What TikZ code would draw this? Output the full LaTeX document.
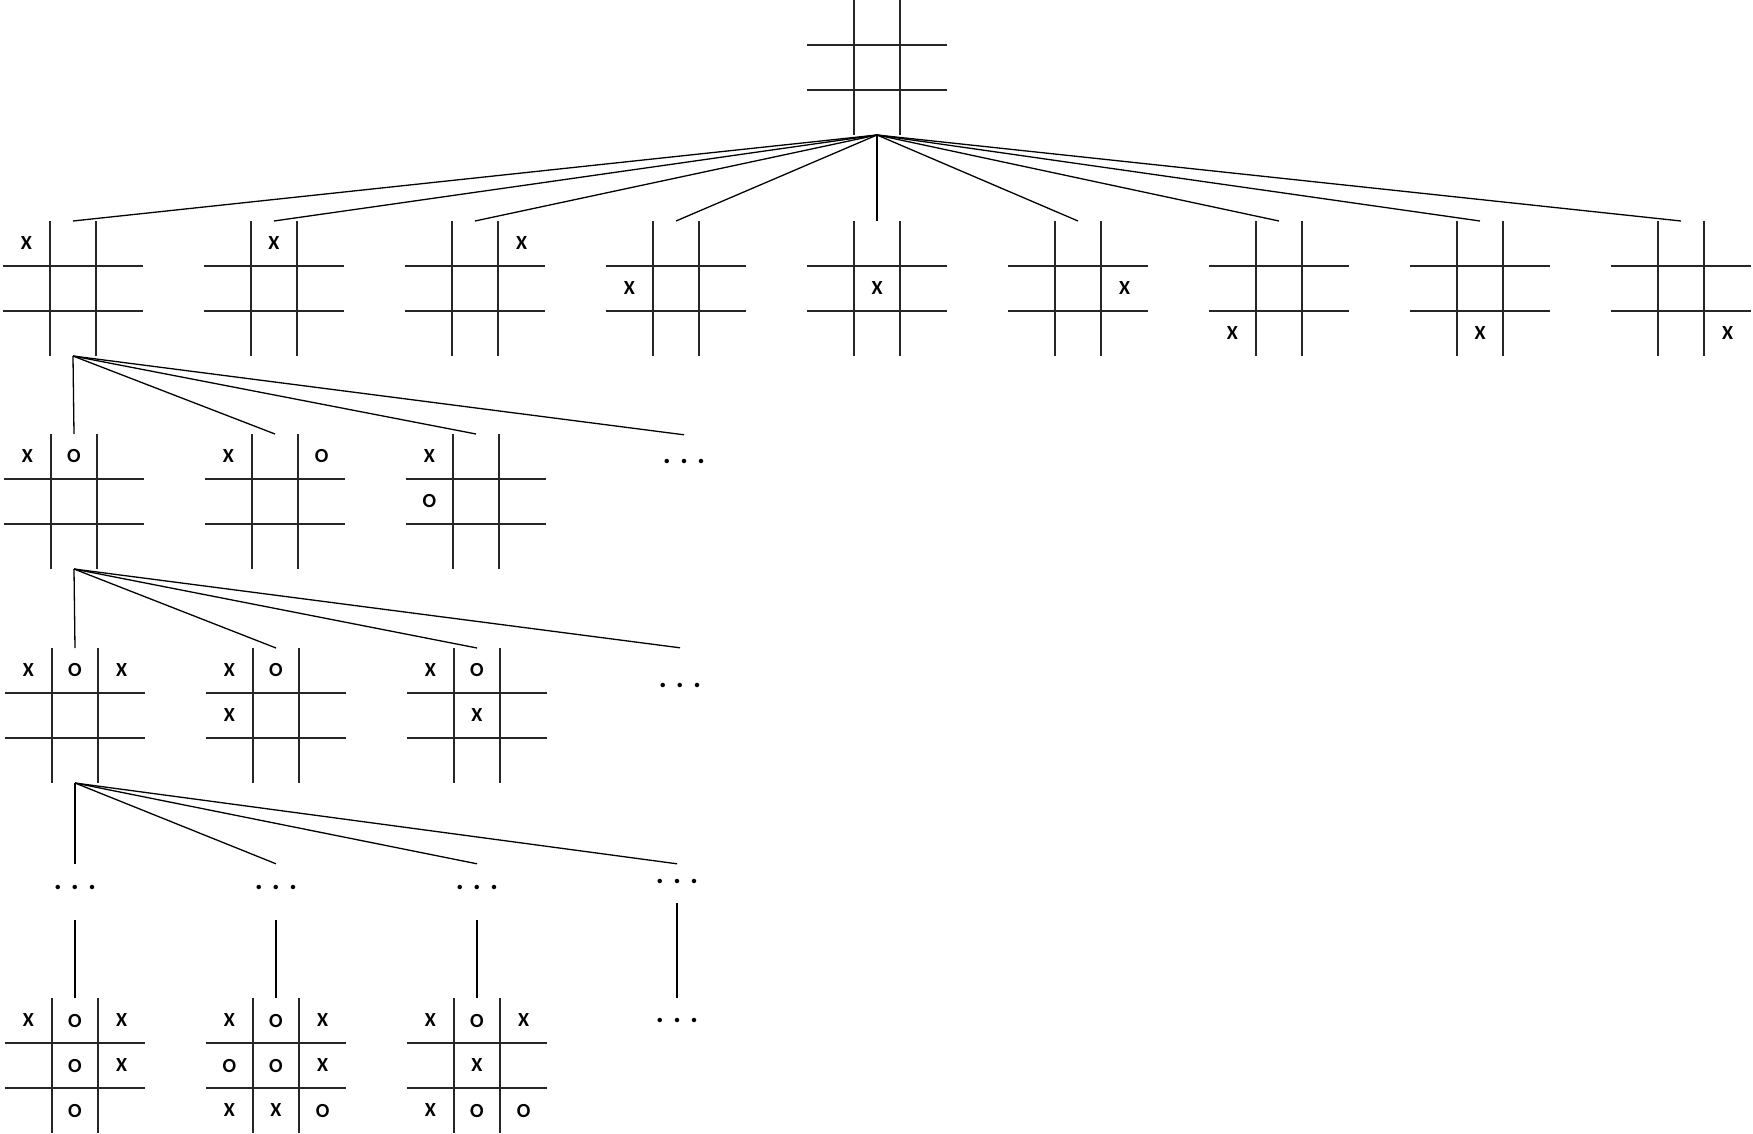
\documentclass[tikz,border=0pt]{standalone}
\usepackage{fontspec}
\setmainfont{Carlito}
\usepackage{tikz}
\usetikzlibrary{positioning, calc}
\newcommand{\moredots}{.\hspace{9pt}.\hspace{9pt}.}
\newcommand{\board}[2]{%
  \node[board, #2] (#1) {};
  \draw[gridline] ($(#1.north west)!1/3!(#1.north east)$) -- ($(#1.south west)!1/3!(#1.south east)$);
  \draw[gridline] ($(#1.north west)!2/3!(#1.north east)$) -- ($(#1.south west)!2/3!(#1.south east)$);
  \draw[gridline] ($(#1.north west)!1/3!(#1.south west)$) -- ($(#1.north east)!1/3!(#1.south east)$);
  \draw[gridline] ($(#1.north west)!2/3!(#1.south west)$) -- ($(#1.north east)!2/3!(#1.south east)$);
}
\newcommand{\putmarks}[2]{%
  \foreach \rw/\cl/\sy in {#2}
    \node[xo] at ($(#1.north west)+({(\cl-0.5)*140/3},{(\rw-0.5)*45})$) {\sy};
}

\begin{document}
\begin{tikzpicture}[
  x=1pt, y=-1pt,
  board/.style={rectangle, minimum width=140pt, minimum height=135pt, inner sep=0pt, outer sep=0pt},
  gridline/.style={line width=1.8pt, black!85},
  xo/.style={font=\fontsize{20}{24}\selectfont\bfseries, inner sep=0pt},
  etcdots/.style={font=\fontsize{30}{32}\selectfont\bfseries, inner sep=0pt, minimum height=52pt},
  link/.style={line width=1.3pt, black}
]
\useasboundingbox (0,0) rectangle (1753,1134);

% empty board
\board{r}{anchor=north west, at={(807,0)}}

% first move
\board{a1}{anchor=north west, at={(3,221)}}
\board{a2}{right=61pt of a1}
\board{a3}{right=61pt of a2}
\board{a4}{right=61pt of a3}
\board{a5}{right=61pt of a4}
\board{a6}{right=61pt of a5}
\board{a7}{right=61pt of a6}
\board{a8}{right=61pt of a7}
\board{a9}{right=61pt of a8}
\putmarks{a1}{1/1/X}
\putmarks{a2}{1/2/X}
\putmarks{a3}{1/3/X}
\putmarks{a4}{2/1/X}
\putmarks{a5}{2/2/X}
\putmarks{a6}{2/3/X}
\putmarks{a7}{3/1/X}
\putmarks{a8}{3/2/X}
\putmarks{a9}{3/3/X}

% second move
\board{b1}{anchor=north west, at={(4,434)}}
\board{b2}{right=61pt of b1}
\board{b3}{right=61pt of b2}
\node[etcdots] (b4) at (684,461) {\moredots};
\putmarks{b1}{1/1/X, 1/2/O}
\putmarks{b2}{1/1/X, 1/3/O}
\putmarks{b3}{1/1/X, 2/1/O}

% third move
\board{c1}{anchor=north west, at={(5,648)}}
\board{c2}{right=61pt of c1}
\board{c3}{right=61pt of c2}
\node[etcdots, minimum height=74pt] (c4) at (680,685) {\moredots};
\putmarks{c1}{1/1/X, 1/2/O, 1/3/X}
\putmarks{c2}{1/1/X, 1/2/O, 2/1/X}
\putmarks{c3}{1/1/X, 1/2/O, 2/2/X}

% later moves
\node[etcdots, minimum height=46pt] (d1) at (75,887) {\moredots};
\node[etcdots, minimum height=46pt] (d2) at (276,887) {\moredots};
\node[etcdots, minimum height=46pt] (d3) at (477,887) {\moredots};
\node[etcdots, minimum height=34pt] (d4) at (677,881) {\moredots};

% final positions
\board{e1}{anchor=north west, at={(5,998)}}
\board{e2}{right=61pt of e1}
\board{e3}{right=61pt of e2}
\node[etcdots, minimum height=44pt] (e4) at (677,1020) {\moredots};
\putmarks{e1}{1/1/X, 1/2/O, 1/3/X, 2/2/O, 2/3/X, 3/2/O}
\putmarks{e2}{1/1/X, 1/2/O, 1/3/X, 2/1/O, 2/2/O, 2/3/X, 3/1/X, 3/2/X, 3/3/O}
\putmarks{e3}{1/1/X, 1/2/O, 1/3/X, 2/2/X, 3/1/X, 3/2/O, 3/3/O}

\draw[link] (r.south) -- (a1.north);
\draw[link] (r.south) -- (a2.north);
\draw[link] (r.south) -- (a3.north);
\draw[link] (r.south) -- (a4.north);
\draw[link] (r.south) -- (a5.north);
\draw[link] (r.south) -- (a6.north);
\draw[link] (r.south) -- (a7.north);
\draw[link] (r.south) -- (a8.north);
\draw[link] (r.south) -- (a9.north);

\draw[link] (a1.south) -- (b1.north);
\draw[link] (a1.south) -- (b2.north);
\draw[link] (a1.south) -- (b3.north);
\draw[link] (a1.south) -- (b4.north);

\draw[link] (b1.south) -- (c1.north);
\draw[link] (b1.south) -- (c2.north);
\draw[link] (b1.south) -- (c3.north);
\draw[link] (b1.south) -- (c4.north);

\draw[link] (c1.south) -- (d1.north);
\draw[link] (c1.south) -- (d2.north);
\draw[link] (c1.south) -- (d3.north);
\draw[link] (c1.south) -- (d4.north);

\draw[link, shorten <=10pt] (d1.south) -- (e1.north);
\draw[link, shorten <=10pt] (d2.south) -- (e2.north);
\draw[link, shorten <=10pt] (d3.south) -- (e3.north);
\draw[link, shorten <=5pt] (d4.south) -- (e4.north);
\end{tikzpicture}
\end{document}
